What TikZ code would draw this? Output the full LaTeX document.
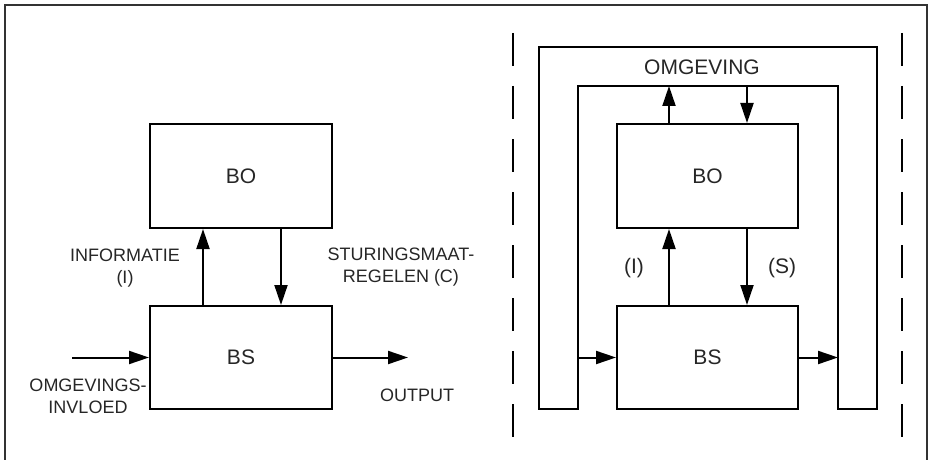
\documentclass[tikz,border=0pt]{standalone}
\usepackage{fontspec}
\setmainfont{Liberation Sans}
\usetikzlibrary{arrows.meta,calc}
\begin{document}
\begin{tikzpicture}[x=1pt,y=-1pt,
  blk/.style={draw,line width=2pt,inner sep=0pt,minimum width=182pt,minimum height=104pt,text=black!85,font=\fontsize{21}{24}\selectfont},
  arr/.style={line width=2pt,-{Triangle[length=20pt,width=13pt]}},
  lbl/.style={align=center,inner sep=0pt,text=black!85,font=\fontsize{18}{22}\selectfont},
  big/.style={inner sep=0pt,text=black!85,font=\fontsize{21}{24}\selectfont},
  fr/.style={line width=2pt,draw=black!80}]
\useasboundingbox (0,0) rectangle (930,460);
% frame
\draw[fr] (5,470) -- (5,5) -- (927,5) -- (927,470);
% left diagram
\node[blk] (BOL) at (241,176) {BO};
\node[blk,minimum height=103pt] (BSL) at (241,357.5) {BS};
\coordinate (ulx) at (203,0);
\coordinate (dlx) at (281,0);
\draw[arr] (BSL.north -| ulx) -- (BOL.south -| ulx);
\draw[arr] (BOL.south -| dlx) -- (BSL.north -| dlx);
\coordinate (inbeg) at (72,357.5);
\coordinate (outend) at (408,357.5);
\draw[arr] (inbeg) -- (BSL.west);
\draw[arr] (BSL.east) -- (outend);
\node[lbl] (linfo) at (125,268) {INFORMATIE\\(I)};
\node[lbl] (lstur) at (401,267) {STURINGSMAAT-\\REGELEN (C)};
\node[lbl] (lomg) at (88,396.5) {OMGEVINGS-\\INVLOED};
\node[lbl] (lout) at (417,395) {OUTPUT};
% right diagram
\draw[line width=2pt,dash pattern=on 33pt off 20pt] (513,33) -- (513,440);
\draw[line width=2pt,dash pattern=on 33pt off 20pt] (902,33) -- (902,440);
\draw[line width=2pt] (539,409) -- (539,47) -- (877,47) -- (877,409) -- (838,409) -- (838,86) -- (578,86) -- (578,409) -- cycle;
\coordinate (envL) at (578,86);
\coordinate (envR) at (838,86);
\node[big] (lenv) at (702,67) {OMGEVING};
\node[blk,minimum width=181pt] (BOR) at (707.5,176) {BO};
\node[blk,minimum width=181pt,minimum height=103pt] (BSR) at (707.5,357.5) {BS};
\coordinate (urx) at (669,0);
\coordinate (drx) at (747,0);
\draw[arr] (BOR.north -| urx) -- (envL -| urx);
\draw[arr] (envL -| drx) -- (BOR.north -| drx);
\draw[arr] (BSR.north -| urx) -- (BOR.south -| urx);
\draw[arr] (BOR.south -| drx) -- (BSR.north -| drx);
\draw[arr] (envL |- BSR.west) -- (BSR.west);
\draw[arr] (BSR.east) -- (envR |- BSR.east);
\node[big] (ri) at (634,268) {(I)};
\node[big] (rs) at (782,268) {(S)};
\end{tikzpicture}
\end{document}
